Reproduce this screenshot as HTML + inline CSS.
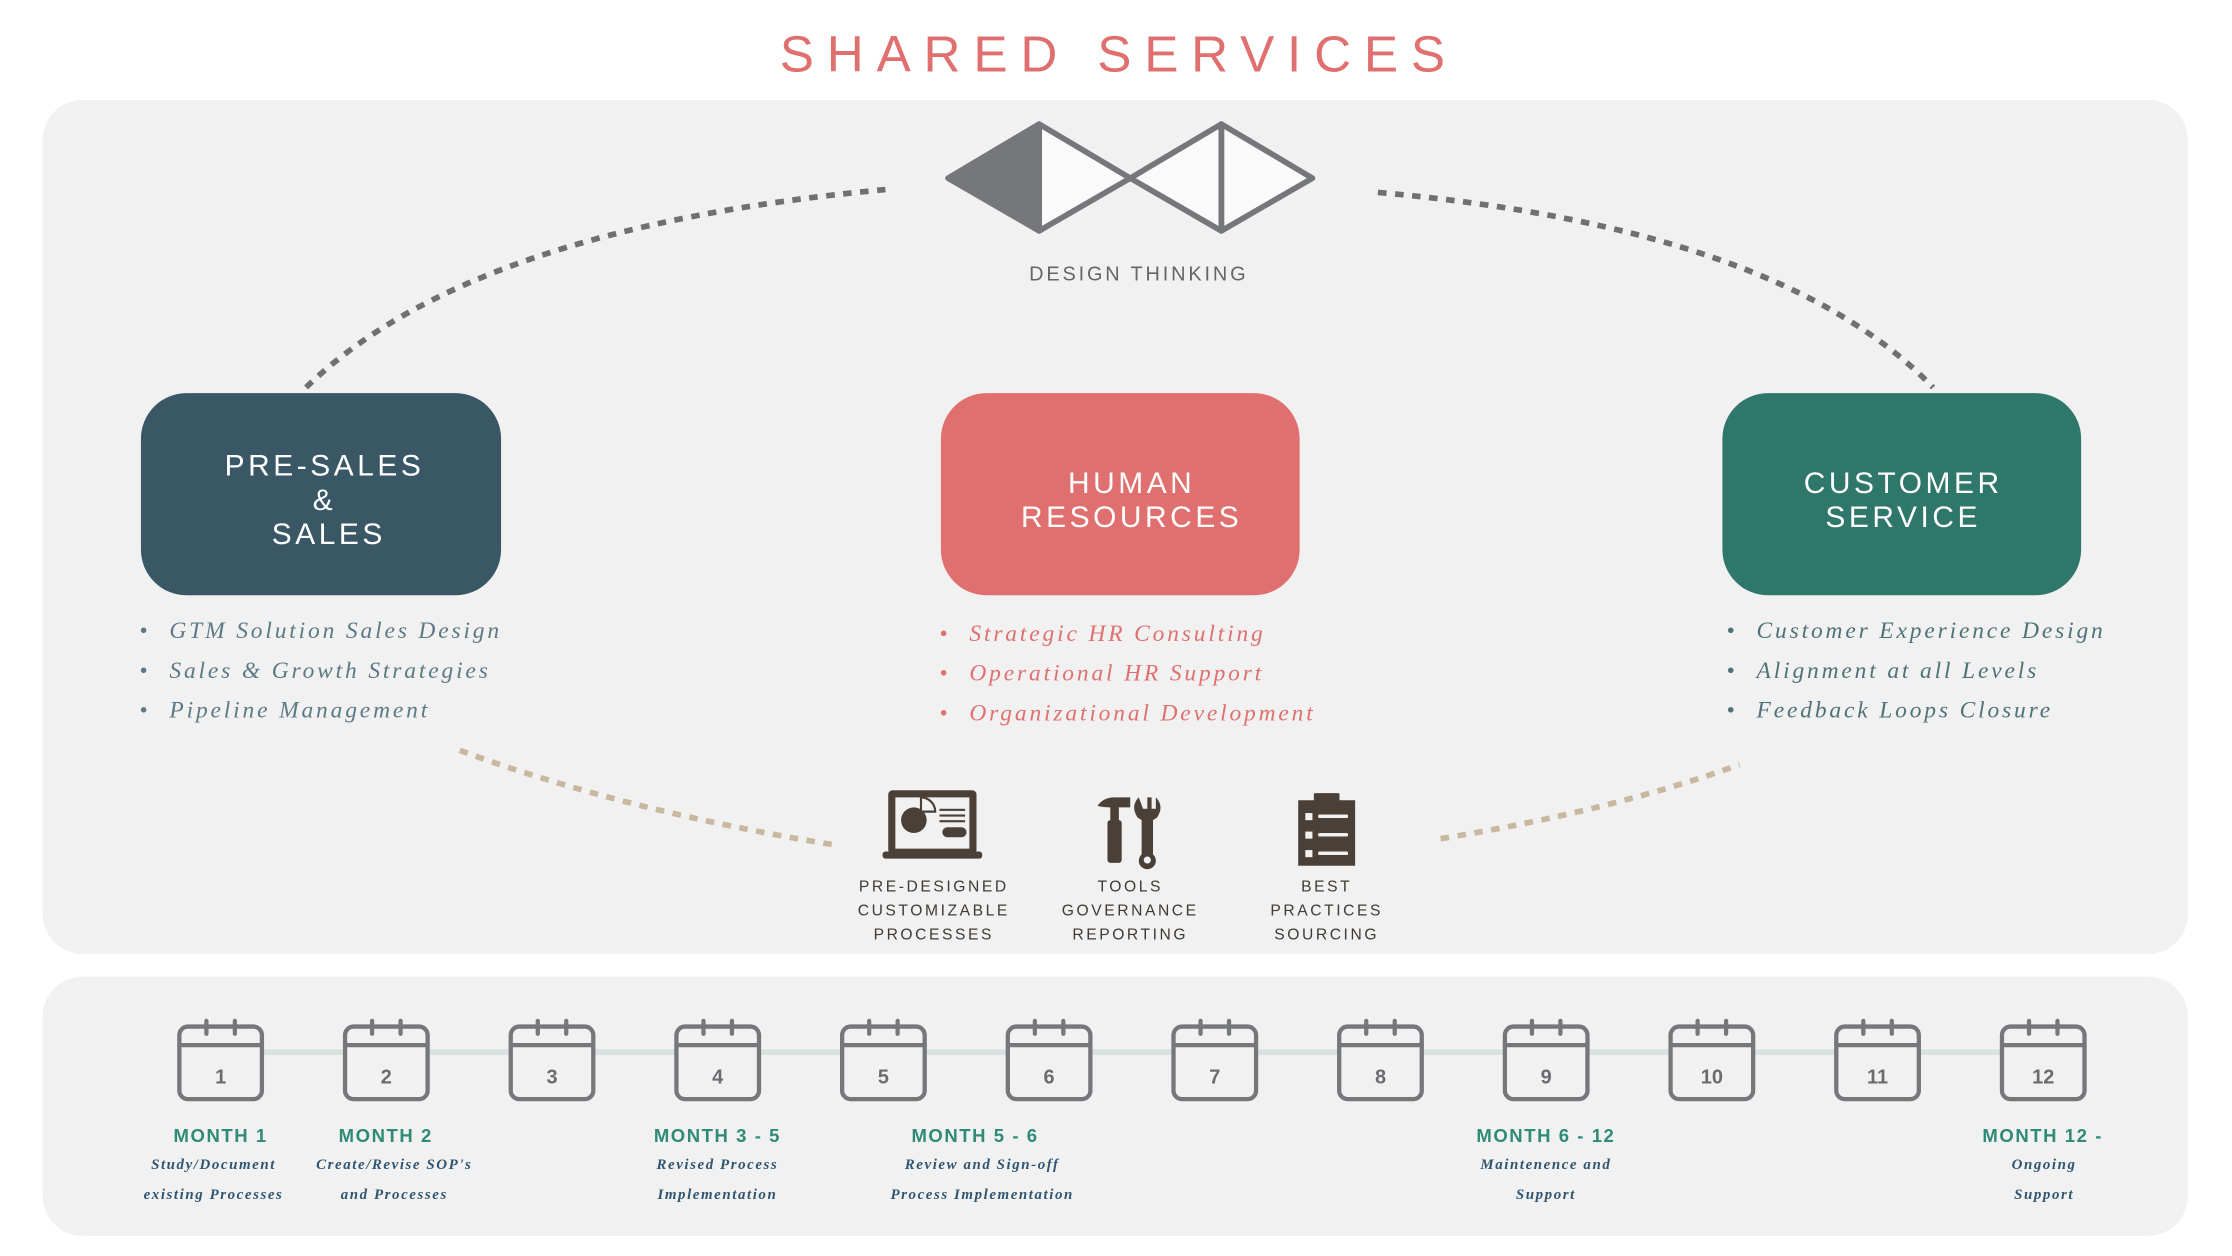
<!DOCTYPE html>
<html><head><meta charset="utf-8"><style>
html,body{margin:0;padding:0;background:#fff;}
svg{display:block;}
.s{font-family:"Liberation Sans",sans-serif;}
.i{font-family:"Liberation Serif",serif;font-style:italic;}
</style></head><body>
<svg width="2232" height="1256" viewBox="0 0 1568 882" xmlns="http://www.w3.org/2000/svg">
<rect width="1568" height="882" fill="#fff"/>
<text x="786" y="50" text-anchor="middle" class="s" font-size="36" letter-spacing="9" fill="#e07070">SHARED  SERVICES</text>
<rect x="30" y="70" width="1507" height="600" rx="28" fill="#f1f1f1"/>
<rect x="30" y="686" width="1507" height="182" rx="28" fill="#f1f1f1"/>

<g stroke="#75777a" stroke-width="4" stroke-linejoin="round">
<polygon points="730,87 794,125 730,162" fill="#fafafa"/>
<polygon points="858,87 922,125 858,162" fill="#fafafa"/>
<polygon points="794,125 858,87 858,162" fill="#fafafa"/>
<polygon points="666,125 730,87 730,162" fill="#75777a"/>
</g>
<text x="800" y="197" text-anchor="middle" class="s" font-size="14" letter-spacing="2" fill="#666">DESIGN THINKING</text>

<g fill="none" stroke-width="4" stroke-dasharray="6 6">
<path d="M215,272 Q330,160 622,133" stroke="#707070"/>
<path d="M968,135 Q1250,160 1358,272" stroke="#707070"/>
<path d="M323,527 Q440,570 590,594" stroke="#c8b8a0"/>
<path d="M1012,589 Q1130,570 1222,537" stroke="#c8b8a0"/>
</g>

<rect x="99" y="276" width="253" height="142" rx="32" fill="#3a5766"/>
<rect x="661" y="276" width="252" height="142" rx="32" fill="#e07070"/>
<rect x="1210" y="276" width="252" height="142" rx="32" fill="#2f766b"/>
<g class="s" font-size="21" letter-spacing="2.5" fill="#fff" text-anchor="middle">
<text x="228" y="334">PRE-SALES</text><text x="228" y="358">&amp;</text><text x="231" y="382">SALES</text>
<text x="795" y="346">HUMAN</text><text x="795" y="370">RESOURCES</text>
<text x="1337" y="346">CUSTOMER</text><text x="1337" y="370">SERVICE</text>
</g>

<g class="i" font-size="16.5" letter-spacing="2">
<g fill="#5c7a85">
<text x="98" y="448" font-style="normal">•</text><text x="119" y="448">GTM Solution Sales Design</text>
<text x="98" y="476" font-style="normal">•</text><text x="119" y="476">Sales &amp; Growth Strategies</text>
<text x="98" y="504" font-style="normal">•</text><text x="119" y="504">Pipeline Management</text>
</g>
<g fill="#e07070">
<text x="660" y="450" font-style="normal">•</text><text x="681" y="450">Strategic HR Consulting</text>
<text x="660" y="478" font-style="normal">•</text><text x="681" y="478">Operational HR Support</text>
<text x="660" y="506" font-style="normal">•</text><text x="681" y="506">Organizational Development</text>
</g>
<g fill="#4f7278">
<text x="1213" y="448" font-style="normal">•</text><text x="1234" y="448">Customer Experience Design</text>
<text x="1213" y="476" font-style="normal">•</text><text x="1234" y="476">Alignment at all Levels</text>
<text x="1213" y="504" font-style="normal">•</text><text x="1234" y="504">Feedback Loops Closure</text>
</g>
</g>

<g fill="#4a4038">
<rect x="624" y="555" width="62" height="45" rx="3"/>
<rect x="629" y="560" width="52" height="36" fill="#f1f1f1"/>
<rect x="620" y="598" width="70" height="5" rx="2"/>
<circle cx="642" cy="576" r="9"/>
<path d="M647,568 v-8 a10,10 0 0 1 10,10 h-10z" fill="#f1f1f1" stroke="#4a4038" stroke-width="1.5"/>
<rect x="660" y="568" width="18" height="1.5"/><rect x="660" y="572" width="18" height="1.5"/><rect x="660" y="576" width="18" height="1.5"/>
<rect x="662" y="581" width="17" height="7" rx="3.5"/>
<path d="M771,566 q4,-6 12,-6 h11 v7 h-8 v10 h-6 v-10 q-5,0 -9,-1z"/>
<rect x="778" y="576" width="10" height="30" rx="2"/>
<path d="M800,560 q-6,6 -1,14 l3,2 v24 a6,6 0 1 0 8,0 v-24 l3,-2 q5,-8 -1,-14 v8 h-3 v-8 h-3 v8 h-3z"/>
<circle cx="806" cy="604" r="2.5" fill="#f1f1f1"/>
<rect x="912" y="562" width="40" height="46"/>
<rect x="923" y="557" width="18" height="8" rx="1"/>
<g fill="#f1f1f1">
<rect x="917" y="571" width="5" height="5"/><rect x="926" y="572" width="21" height="2.5" rx="1"/>
<rect x="917" y="584" width="5" height="5"/><rect x="926" y="585" width="21" height="2.5" rx="1"/>
<rect x="917" y="597" width="5" height="5"/><rect x="926" y="598" width="21" height="2.5" rx="1"/>
</g>
</g>
<g class="s" font-size="11" letter-spacing="1.8" fill="#3f3a35" text-anchor="middle">
<text x="656" y="626">PRE-DESIGNED</text><text x="656" y="643">CUSTOMIZABLE</text><text x="656" y="660">PROCESSES</text>
<text x="794" y="626">TOOLS</text><text x="794" y="643">GOVERNANCE</text><text x="794" y="660">REPORTING</text>
<text x="932" y="626">BEST</text><text x="932" y="643">PRACTICES</text><text x="932" y="660">SOURCING</text>
</g>

<line x1="155" y1="739" x2="1435" y2="739" stroke="#d8e2e0" stroke-width="4"/>
<g stroke="#75777a" stroke-width="3" fill="#f1f1f1" stroke-linecap="round">
<g transform="translate(155,0)"><rect x="-29" y="721" width="58" height="51" rx="6"/><line x1="-29" y1="734" x2="29" y2="734"/><line x1="-10" y1="717" x2="-10" y2="726"/><line x1="10" y1="717" x2="10" y2="726"/></g>
<g transform="translate(271.4,0)"><rect x="-29" y="721" width="58" height="51" rx="6"/><line x1="-29" y1="734" x2="29" y2="734"/><line x1="-10" y1="717" x2="-10" y2="726"/><line x1="10" y1="717" x2="10" y2="726"/></g>
<g transform="translate(387.8,0)"><rect x="-29" y="721" width="58" height="51" rx="6"/><line x1="-29" y1="734" x2="29" y2="734"/><line x1="-10" y1="717" x2="-10" y2="726"/><line x1="10" y1="717" x2="10" y2="726"/></g>
<g transform="translate(504.2,0)"><rect x="-29" y="721" width="58" height="51" rx="6"/><line x1="-29" y1="734" x2="29" y2="734"/><line x1="-10" y1="717" x2="-10" y2="726"/><line x1="10" y1="717" x2="10" y2="726"/></g>
<g transform="translate(620.6,0)"><rect x="-29" y="721" width="58" height="51" rx="6"/><line x1="-29" y1="734" x2="29" y2="734"/><line x1="-10" y1="717" x2="-10" y2="726"/><line x1="10" y1="717" x2="10" y2="726"/></g>
<g transform="translate(737,0)"><rect x="-29" y="721" width="58" height="51" rx="6"/><line x1="-29" y1="734" x2="29" y2="734"/><line x1="-10" y1="717" x2="-10" y2="726"/><line x1="10" y1="717" x2="10" y2="726"/></g>
<g transform="translate(853.4,0)"><rect x="-29" y="721" width="58" height="51" rx="6"/><line x1="-29" y1="734" x2="29" y2="734"/><line x1="-10" y1="717" x2="-10" y2="726"/><line x1="10" y1="717" x2="10" y2="726"/></g>
<g transform="translate(969.8,0)"><rect x="-29" y="721" width="58" height="51" rx="6"/><line x1="-29" y1="734" x2="29" y2="734"/><line x1="-10" y1="717" x2="-10" y2="726"/><line x1="10" y1="717" x2="10" y2="726"/></g>
<g transform="translate(1086.2,0)"><rect x="-29" y="721" width="58" height="51" rx="6"/><line x1="-29" y1="734" x2="29" y2="734"/><line x1="-10" y1="717" x2="-10" y2="726"/><line x1="10" y1="717" x2="10" y2="726"/></g>
<g transform="translate(1202.6,0)"><rect x="-29" y="721" width="58" height="51" rx="6"/><line x1="-29" y1="734" x2="29" y2="734"/><line x1="-10" y1="717" x2="-10" y2="726"/><line x1="10" y1="717" x2="10" y2="726"/></g>
<g transform="translate(1319,0)"><rect x="-29" y="721" width="58" height="51" rx="6"/><line x1="-29" y1="734" x2="29" y2="734"/><line x1="-10" y1="717" x2="-10" y2="726"/><line x1="10" y1="717" x2="10" y2="726"/></g>
<g transform="translate(1435.4,0)"><rect x="-29" y="721" width="58" height="51" rx="6"/><line x1="-29" y1="734" x2="29" y2="734"/><line x1="-10" y1="717" x2="-10" y2="726"/><line x1="10" y1="717" x2="10" y2="726"/></g>
</g>
<g class="s" font-size="14" font-weight="bold" fill="#6a6c6f" text-anchor="middle">
<text x="155" y="761">1</text><text x="271.4" y="761">2</text><text x="387.8" y="761">3</text><text x="504.2" y="761">4</text>
<text x="620.6" y="761">5</text><text x="737" y="761">6</text><text x="853.4" y="761">7</text><text x="969.8" y="761">8</text>
<text x="1086.2" y="761">9</text><text x="1202.6" y="761">10</text><text x="1319" y="761">11</text><text x="1435.4" y="761">12</text>
</g>
<g class="s" font-size="13" font-weight="bold" letter-spacing="1.1" fill="#2f8a78" text-anchor="middle">
<text x="155" y="802">MONTH 1</text><text x="271" y="802">MONTH 2</text><text x="504" y="802">MONTH 3 - 5</text>
<text x="685" y="802">MONTH 5 - 6</text><text x="1086" y="802">MONTH 6 - 12</text><text x="1435" y="802">MONTH 12 -</text>
</g>
<g class="i" font-size="10.5" font-weight="bold" letter-spacing="1.1" fill="#2f5570" text-anchor="middle">
<text x="150" y="821">Study/Document</text><text x="150" y="842">existing Processes</text>
<text x="277" y="821">Create/Revise SOP's</text><text x="277" y="842">and Processes</text>
<text x="504" y="821">Revised Process</text><text x="504" y="842">Implementation</text>
<text x="690" y="821">Review and Sign-off</text><text x="690" y="842">Process Implementation</text>
<text x="1086" y="821">Maintenence and</text><text x="1086" y="842">Support</text>
<text x="1436" y="821">Ongoing</text><text x="1436" y="842">Support</text>
</g>
</svg>
</body></html>
